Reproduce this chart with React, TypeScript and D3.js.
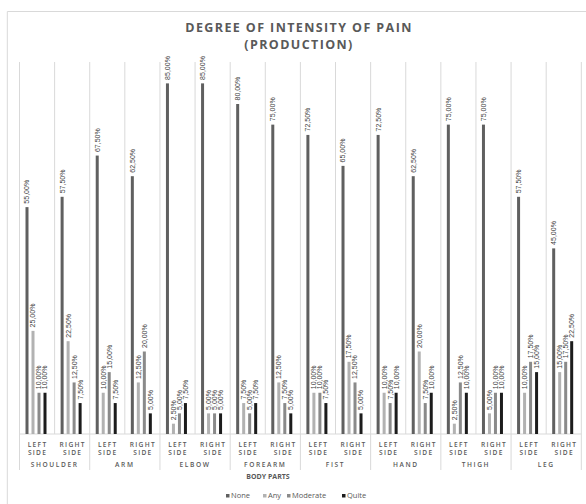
import React from "react";
import * as d3 from "d3";

const groups = ["SHOULDER", "ARM", "ELBOW", "FOREARM", "FIST", "HAND", "THIGH", "LEG"];
const sides = ["LEFT SIDE", "RIGHT SIDE"];
const seriesNames = ["None", "Any", "Moderate", "Quite"];
const seriesColors = ["#606060", "#b2b2b2", "#8a8a8a", "#1c1c1c"];

// order: shoulder L, shoulder R, arm L, arm R, ...
const noneVals = [55, 57.5, 67.5, 62.5, 85, 85, 80, 75, 72.5, 65, 72.5, 62.5, 75, 75, 57.5, 45];
const anyVals = [25, 22.5, 10, 12.5, 2.5, 5, 7.5, 12.5, 10, 17.5, 10, 20, 2.5, 5, 10, 15];
const moderateVals = [10, 12.5, 15, 20, 5, 5, 5, 7.5, 10, 12.5, 7.5, 7.5, 12.5, 10, 17.5, 17.5];
const quiteVals = [10, 7.5, 7.5, 5, 7.5, 5, 7.5, 5, 7.5, 5, 10, 10, 10, 10, 15, 22.5];

const W = 586;
const H = 504;
const plotLeft = 19.5;
const plotRight = 581.3;
const plotTop = 62;
const baseY = 434;

export default function App() {
  const series = [noneVals, anyVals, moderateVals, quiteVals];
  const cats = d3.range(groups.length * sides.length);
  const x = d3.scaleBand<number>().domain(cats).range([plotLeft, plotRight]).paddingInner(0).paddingOuter(0);
  const cw = x.bandwidth();
  const inner = d3.scaleBand<number>().domain(d3.range(4)).range([4.5, 28.5]);
  const y = d3.scaleLinear().domain([0, 90]).range([baseY, plotTop + 0.75]);
  const fmt = (v: number) => v.toFixed(2).replace(".", ",") + "%";
  const barW = 3;
  const gray = "#595959";

  return (
    <svg width={W} height={H} style={{ position: "absolute", left: 0, top: 0, background: "#fff" }}>
      <rect x={0} y={0} width={W} height={H} fill="#fff" />
      {/* frame */}
      <line x1={7.3} x2={7.3} y1={11.5} y2={H} stroke="#d9d9d9" strokeWidth={1} />
      <line x1={7.3} x2={W} y1={11.5} y2={11.5} stroke="#d9d9d9" strokeWidth={1} />
      {/* title */}
      <text x={299} y={32} textAnchor="middle" fontFamily="Open Sans, sans-serif" fontWeight="bold" fontSize={12.5} letterSpacing={1.4} fill={gray}>
        DEGREE OF INTENSITY OF PAIN
      </text>
      <text x={299} y={49} textAnchor="middle" fontFamily="Open Sans, sans-serif" fontWeight="bold" fontSize={12.5} letterSpacing={1.4} fill={gray}>
        (PRODUCTION)
      </text>
      {/* vertical gridlines */}
      {d3.range(cats.length + 1).map((i) => {
        const xx = plotLeft + i * cw;
        const isGroup = i % 2 === 0;
        return (
          <line key={"g" + i} x1={xx} x2={xx} y1={plotTop} y2={isGroup ? 470 : baseY} stroke="#d9d9d9" strokeWidth={1} />
        );
      })}
      {/* baseline */}
      <line x1={plotLeft} x2={plotRight} y1={baseY} y2={baseY} stroke="#d9d9d9" strokeWidth={1} />
      {/* bars */}
      {series.map((vals, s) =>
        vals.map((v, i) => {
          const cx = (x(i) as number) + (inner(s) as number) + inner.bandwidth() / 2;
          return (
            <rect key={`b${s}-${i}`} x={cx - barW / 2} y={y(v)} width={barW} height={baseY - y(v)} fill={seriesColors[s]} />
          );
        })
      )}
      {/* data labels */}
      {series.map((vals, s) =>
        vals.map((v, i) => {
          const cx = (x(i) as number) + (inner(s) as number) + inner.bandwidth() / 2;
          const ty = y(v) - 3.5;
          return (
            <text
              key={`l${s}-${i}`}
              transform={`translate(${cx + 2.4},${ty}) rotate(-90)`}
              fontFamily="Liberation Sans Narrow, Liberation Sans, sans-serif"
              fontSize={7}
              fill="#404040"
            >
              {fmt(v)}
            </text>
          );
        })
      )}
      {/* inner category labels */}
      {cats.map((i) => {
        const cx = (x(i) as number) + cw / 2 + 0.5;
        const words = sides[i % 2].split(" ");
        return (
          <g key={"c" + i}>
            <text x={cx} y={446.5} textAnchor="middle" fontFamily="Open Sans, sans-serif" fontWeight="600" fontSize={6.6} letterSpacing={1.3} fill={gray}>
              {words[0]}
            </text>
            <text x={cx} y={455} textAnchor="middle" fontFamily="Open Sans, sans-serif" fontWeight="600" fontSize={6.6} letterSpacing={1.3} fill={gray}>
              {words[1]}
            </text>
          </g>
        );
      })}
      {/* group labels */}
      {groups.map((g, gi) => {
        const cx = plotLeft + (gi * 2 + 1) * cw;
        return (
          <text key={"gl" + gi} x={cx} y={467} textAnchor="middle" fontFamily="Open Sans, sans-serif" fontWeight="600" fontSize={6.6} letterSpacing={1.6} fill={gray}>
            {g}
          </text>
        );
      })}
      {/* axis title */}
      <text x={268} y={478.5} textAnchor="middle" fontFamily="Open Sans, sans-serif" fontWeight="bold" fontSize={7} fill={gray}>
        BODY PARTS
      </text>
      {/* legend */}
      {(() => {
        const xs = [226, 263, 287, 342];
        return seriesNames.map((n, s) => (
          <g key={"lg" + s}>
            <rect x={xs[s]} y={494} width={3.5} height={3.5} fill={seriesColors[s]} />
            <text x={xs[s] + 5} y={497.8} fontFamily="Open Sans, sans-serif" fontSize={7.5} fill={gray}>
              {n}
            </text>
          </g>
        ));
      })()}
    </svg>
  );
}
